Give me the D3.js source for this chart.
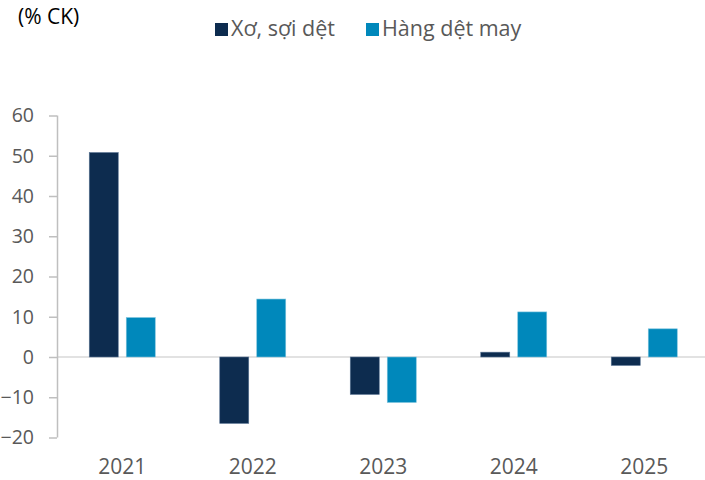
<!DOCTYPE html>
<html>
<head>
<meta charset="utf-8">
<script src="https://cdn.jsdelivr.net/npm/d3@7"></script>
<style>
  body { margin: 0; background: #fff; }
  text { font-family: "Open Sans", "Noto Sans", sans-serif; }
</style>
</head>
<body>
<div id="chart"></div>
<script>
const years = ["2021", "2022", "2023", "2024", "2025"];
const seriesNames = ["Xơ, sợi dệt", "Hàng dệt may"];
const fiberValues = [50.8, -16.5, -9.3, 1.2, -2.1];
const garmentValues = [9.8, 14.4, -11.3, 11.2, 7.0];
const yTicks = [60, 50, 40, 30, 20, 10, 0, -10, -20];
const colors = ["#0d2c4f", "#0088bb"];

const width = 705, height = 480;
const margin = {top: 115.5, right: -4.5, bottom: 43, left: 57};

const svg = d3.select("#chart").append("svg")
    .attr("width", width)
    .attr("height", height);

const x = d3.scaleBand()
    .domain(years)
    .range([margin.left, width - margin.right]);

const y = d3.scaleLinear()
    .domain([-20, 60])
    .range([height - margin.bottom + 0.5, margin.top]);

const series = [fiberValues, garmentValues];
const barW = 29, barGap = 8;
const groupW = barW * 2 + barGap;

// zero line
svg.append("line")
    .attr("x1", margin.left).attr("x2", width)
    .attr("y1", y(0)).attr("y2", y(0))
    .attr("stroke", "#d9d9d9").attr("stroke-width", 1.5);

// bars
series.forEach((vals, si) => {
    svg.append("g").selectAll("rect")
        .data(vals)
        .join("rect")
        .attr("x", (d, i) => x(years[i]) + (x.bandwidth() - groupW) / 2 + si * (barW + barGap))
        .attr("y", d => y(Math.max(0, d)))
        .attr("width", barW)
        .attr("height", d => Math.abs(y(d) - y(0)))
        .attr("fill", colors[si])
        .attr("stroke", si === 0 ? "#5a7594" : "#7cc3dd")
        .attr("stroke-width", 0.6);
});

// y axis
const yAxis = svg.append("g")
    .attr("transform", "translate(" + margin.left + ",0)")
    .call(d3.axisLeft(y).tickValues(yTicks).tickSize(8).tickPadding(15).tickFormat(d3.format("d")));
yAxis.select(".domain").attr("stroke", "#bfbfbf").attr("stroke-width", 1.5)
    .attr("d", "M0.5," + y(60) + "V" + y(-20));
yAxis.selectAll(".tick line").attr("stroke", "#bfbfbf").attr("stroke-width", 1.5);
yAxis.selectAll(".tick text")
    .attr("fill", "#595959")
    .style("font-size", "19.5px")
    .style("font-family", "'Open Sans', sans-serif");

// x labels
svg.append("g").selectAll("text")
    .data(years)
    .join("text")
    .attr("x", d => x(d) + x.bandwidth() / 2)
    .attr("y", 474)
    .attr("text-anchor", "middle")
    .attr("fill", "#595959")
    .style("font-size", "21px")
    .text(d => d);

// unit label
svg.append("text")
    .attr("x", 18).attr("y", 24)
    .attr("fill", "#000")
    .style("font-size", "21px")
    .text("(% CK)");

// legend
const legendX = [215, 366];
const legend = svg.append("g").selectAll("g")
    .data(seriesNames)
    .join("g")
    .attr("transform", (d, i) => "translate(" + legendX[i] + ",23)");
legend.append("rect")
    .attr("width", 13).attr("height", 13)
    .attr("fill", (d, i) => colors[i]);
legend.append("text")
    .attr("x", 16).attr("y", 13)
    .attr("fill", "#595959")
    .style("font-size", "21.5px")
    .text(d => d);
</script>
</body>
</html>
